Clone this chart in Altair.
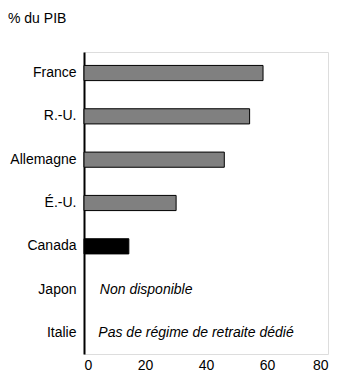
import altair as alt
import pandas as pd

countries = ["France", "R.-U.", "Allemagne", "É.-U.", "Canada", "Japon", "Italie"]
values = [58.7, 54.3, 46.0, 30.2, 14.7, None, None]
fills = ["#808080", "#808080", "#808080", "#808080", "#000000", "#808080", "#808080"]
x_ticks = [0, 20, 40, 60, 80]

note_countries = ["Japon", "Italie"]
note_texts = ["Non disponible", "Pas de régime de retraite dédié"]
note_x = [5.2, 4.7]

df = pd.DataFrame({"pays": countries, "val": values, "couleur": fills})
df = df.dropna()
notes = pd.DataFrame({"pays": note_countries, "texte": note_texts, "x": note_x})

FONT = "Liberation Sans"
FS = 14

y_enc = alt.Y("pays:N", sort=countries, title=None,
              scale=alt.Scale(domain=countries, paddingInner=0.65, paddingOuter=0.31),
              axis=alt.Axis(domainColor="#000000", domainWidth=2, ticks=False,
                            labelPadding=8, labelFontSize=FS, labelColor="#000000",
                            labelFont=FONT, grid=False))

bars = alt.Chart(df).mark_bar(stroke="#000000", strokeWidth=1).encode(
    x=alt.X("val:Q", title=None,
            scale=alt.Scale(domain=[0, 80], nice=False),
            axis=alt.Axis(values=x_ticks, domain=False, ticks=False, grid=False,
                          labelPadding=4, labelFontSize=FS, labelColor="#000000",
                          labelFont=FONT)),
    y=y_enc,
    fill=alt.Fill("couleur:N", scale=None),
)

text = alt.Chart(notes).mark_text(align="left", baseline="middle", fontStyle="italic",
                                  fontSize=FS, font=FONT, color="#000000").encode(
    x=alt.X("x:Q"),
    y=alt.Y("pays:N", sort=countries),
    text="texte:N",
)

chart = (bars + text).properties(
    width=244, height=302,
    autosize="none",
    padding={"left": 76, "top": 44, "right": 8, "bottom": 19},
    title=alt.TitleParams("% du PIB", anchor="start", frame="group", dx=-76, offset=26,
                          fontSize=FS, font=FONT, fontWeight="normal", color="#000000"),
).configure_view(stroke=None).configure(background="#ffffff")

chart.save("out.html", embed_options={"renderer": "svg", "actions": False})
